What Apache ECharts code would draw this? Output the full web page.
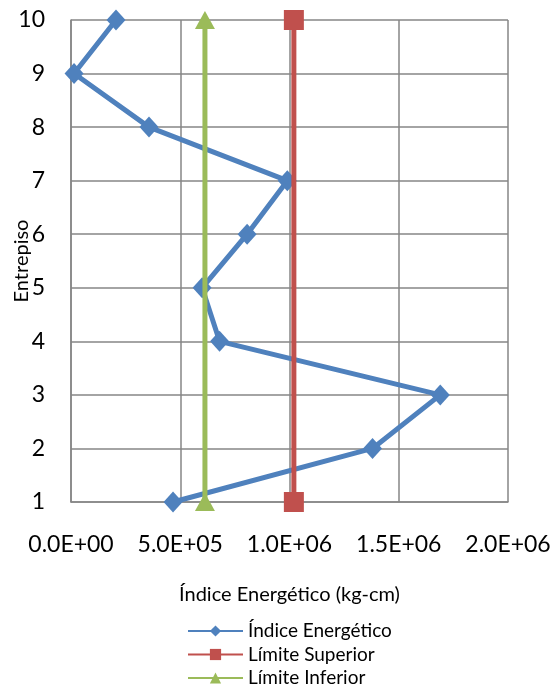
<!DOCTYPE html>
<html><head><meta charset="utf-8">
<script src="https://cdn.jsdelivr.net/npm/echarts@6/dist/echarts.min.js"></script>
<style>html,body{margin:0;padding:0;background:#fff}#c{width:556px;height:692px}</style>
</head><body><div id="c"></div>
<script>
const floors = [1, 2, 3, 4, 5, 6, 7, 8, 9, 10];
const indice = [4.67e5, 1.38e6, 1.69e6, 6.8e5, 6.0e5, 8.06e5, 0.99e6, 3.57e5, 1.4e4, 2.06e5];
const limSup = 1.02e6;
const limInf = 6.13e5;
const xTicks = ['0.0E+00', '5.0E+05', '1.0E+06', '1.5E+06', '2.0E+06'];
const seriesNames = ['Índice Energético', 'Límite Superior', 'Límite Inferior'];
const colors = ['#4F81BD', '#C0504D', '#9BBB59'];

const font = 'Lato, "Open Sans", sans-serif';
const chart = echarts.init(document.getElementById('c'));
chart.setOption({
  animation: false,
  textStyle: {fontFamily: font},
  grid: {left: 71, right: 48, top: 20, bottom: 190, containLabel: false, outerBoundsMode: 'none'},
  xAxis: {
    type: 'value', min: 0, max: 2e6, interval: 5e5,
    name: 'Índice Energético (kg-cm)', nameLocation: 'middle', nameGap: 83, nameMoveOverlap: false,
    nameTextStyle: {fontSize: 20, color: '#000', fontFamily: font},
    axisLine: {show: true, lineStyle: {color: '#868686', width: 1.5}},
    axisTick: {show: false},
    axisLabel: {fontSize: 23, color: '#000', margin: 31, fontFamily: font,
      formatter: v => xTicks[Math.round(v / 5e5)]},
    splitLine: {show: true, lineStyle: {color: '#868686', width: 1.5}}
  },
  yAxis: {
    type: 'value', min: 1, max: 10, interval: 1,
    name: 'Entrepiso', nameLocation: 'middle', nameGap: 39, nameRotate: 90, nameMoveOverlap: false,
    nameTextStyle: {fontSize: 20, color: '#000', fontFamily: font},
    axisLine: {show: true, lineStyle: {color: '#868686', width: 1.5}},
    axisTick: {show: false},
    axisLabel: {fontSize: 23, color: '#000', margin: 26, fontFamily: font},
    splitLine: {show: true, lineStyle: {color: '#868686', width: 1.5}}
  },
  legend: {
    orient: 'vertical', left: 187, top: 621, itemGap: 3.5, padding: 0,
    itemWidth: 55, itemHeight: 14,
    textStyle: {fontSize: 19, lineHeight: 20, color: '#000', fontFamily: font},
    data: seriesNames
  },
  series: [
    {name: seriesNames[0], type: 'line', data: floors.map((f, i) => [indice[i], f]),
      color: colors[0], lineStyle: {width: 5, color: colors[0]}, symbol: 'diamond', symbolSize: [19, 21],
      itemStyle: {color: colors[0]}, z: 2},
    {name: seriesNames[1], type: 'line', data: [[limSup, 1], [limSup, 10]],
      color: colors[1], lineStyle: {width: 5, color: colors[1]}, symbol: 'rect', symbolSize: 20,
      itemStyle: {color: colors[1]}, z: 3},
    {name: seriesNames[2], type: 'line', data: [[limInf, 1], [limInf, 10]],
      color: colors[2], lineStyle: {width: 5, color: colors[2]}, symbol: 'triangle', symbolSize: [20, 18],
      itemStyle: {color: colors[2]}, z: 4}
  ]
});
</script></body></html>
